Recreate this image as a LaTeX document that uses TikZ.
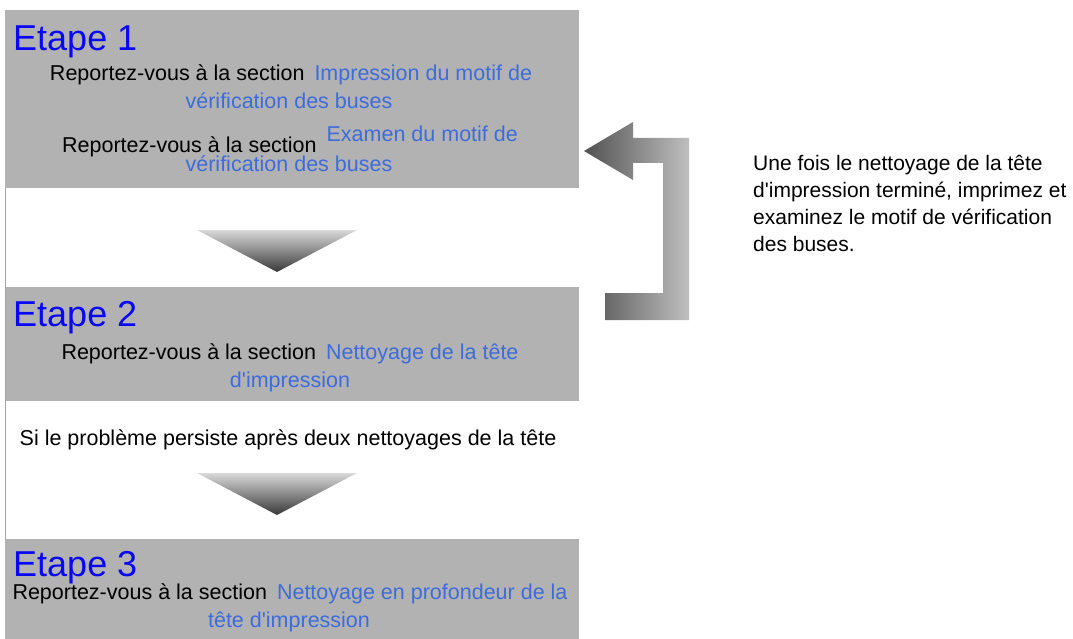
\documentclass[tikz,border=0pt]{standalone}
\usepackage{fontspec}
\setmainfont{Liberation Sans}
\usepackage{xcolor}
\usetikzlibrary{positioning,calc}

\definecolor{boxgray}{RGB}{178,178,178}
\definecolor{railgray}{RGB}{165,165,165}
\definecolor{stepblue}{RGB}{8,8,245}
\definecolor{linkblue}{RGB}{62,108,218}

\tikzset{
  stepbox/.style={fill=boxgray, inner sep=0pt, anchor=north west, minimum width=574pt},
  steptitle/.style={text=stepblue, font=\fontsize{36}{40}\selectfont, inner sep=0pt, anchor=base west},
  bodytext/.style={font=\fontsize{21.5}{28}\selectfont, inner sep=0pt, anchor=base},
  downtri/.style={top color=black!15, bottom color=black!78, draw=none},
}
\newcommand{\lnk}[1]{\textcolor{linkblue}{#1}}
\newcommand{\q}{\textquotesingle}

\begin{document}
\begin{tikzpicture}[x=1pt, y=-1pt]
  \useasboundingbox (0,0) rectangle (1073,639);

  % Step boxes
  \node[stepbox, minimum height=178pt] (box1) at (5,10) {};
  \node[stepbox, minimum height=114pt] (box2) at (5,287) {};
  \node[stepbox, minimum height=100pt] (box3) at (5,539) {};
  \draw[railgray, line width=1pt] (box1.south west) -- (box3.north west);

  % Step 1
  \node[steptitle] (title1) at (13,51) {Etape 1};
  \node[bodytext] (line1a) at (291,81) {Reportez-vous à la section\hspace{4pt} \lnk{Impression du motif de}};
  \node[bodytext] (line1b) at (289,109) {\lnk{vérification des buses}};
  \node[bodytext] (line1c) at (290,153) {Reportez-vous à la section\hspace{4pt} \raisebox{11pt}{\lnk{Examen du motif de}}};
  \node[bodytext] (line1d) at (289,172) {\lnk{vérification des buses}};

  % Arrow 1 -> 2
  \path[downtri] (197,230) -- (357,230) -- (277,272) -- cycle;

  % Step 2
  \node[steptitle] (title2) at (13,326) {Etape 2};
  \node[bodytext] (line2a) at (290,359) {Reportez-vous à la section\hspace{4pt} \lnk{Nettoyage de la tête}};
  \node[bodytext] (line2b) at (290,387) {\lnk{d\q impression}};

  % Condition
  \node[bodytext] (cond) at (288,445) {Si le problème persiste après deux nettoyages de la tête};

  % Arrow 2 -> 3
  \path[downtri] (197,473) -- (357,473) -- (277,515) -- cycle;

  % Step 3
  \node[steptitle] (title3) at (13,576) {Etape 3};
  \node[bodytext] (line3a) at (290,599) {Reportez-vous à la section\hspace{4pt} \lnk{Nettoyage en profondeur de la}};
  \node[bodytext] (line3b) at (289,627) {\lnk{tête d\q impression}};

  % Return arrow 2 -> 1
  \path[left color=black!68, right color=black!25, draw=none]
    (584,151) -- (633,122) -- (633,138) -- (689,138) -- (689,320) -- (605,320)
    -- (605,293) -- (663,293) -- (663,163) -- (633,163) -- (633,180) -- cycle;

  % Note
  \node[font=\fontsize{21}{27}\selectfont, align=left, anchor=north west, inner sep=0pt] (note) at (753,155)
    {Une fois le nettoyage de la tête\\d\q impression terminé, imprimez et\\examinez le motif de vérification\\des buses.};
\end{tikzpicture}
\end{document}
